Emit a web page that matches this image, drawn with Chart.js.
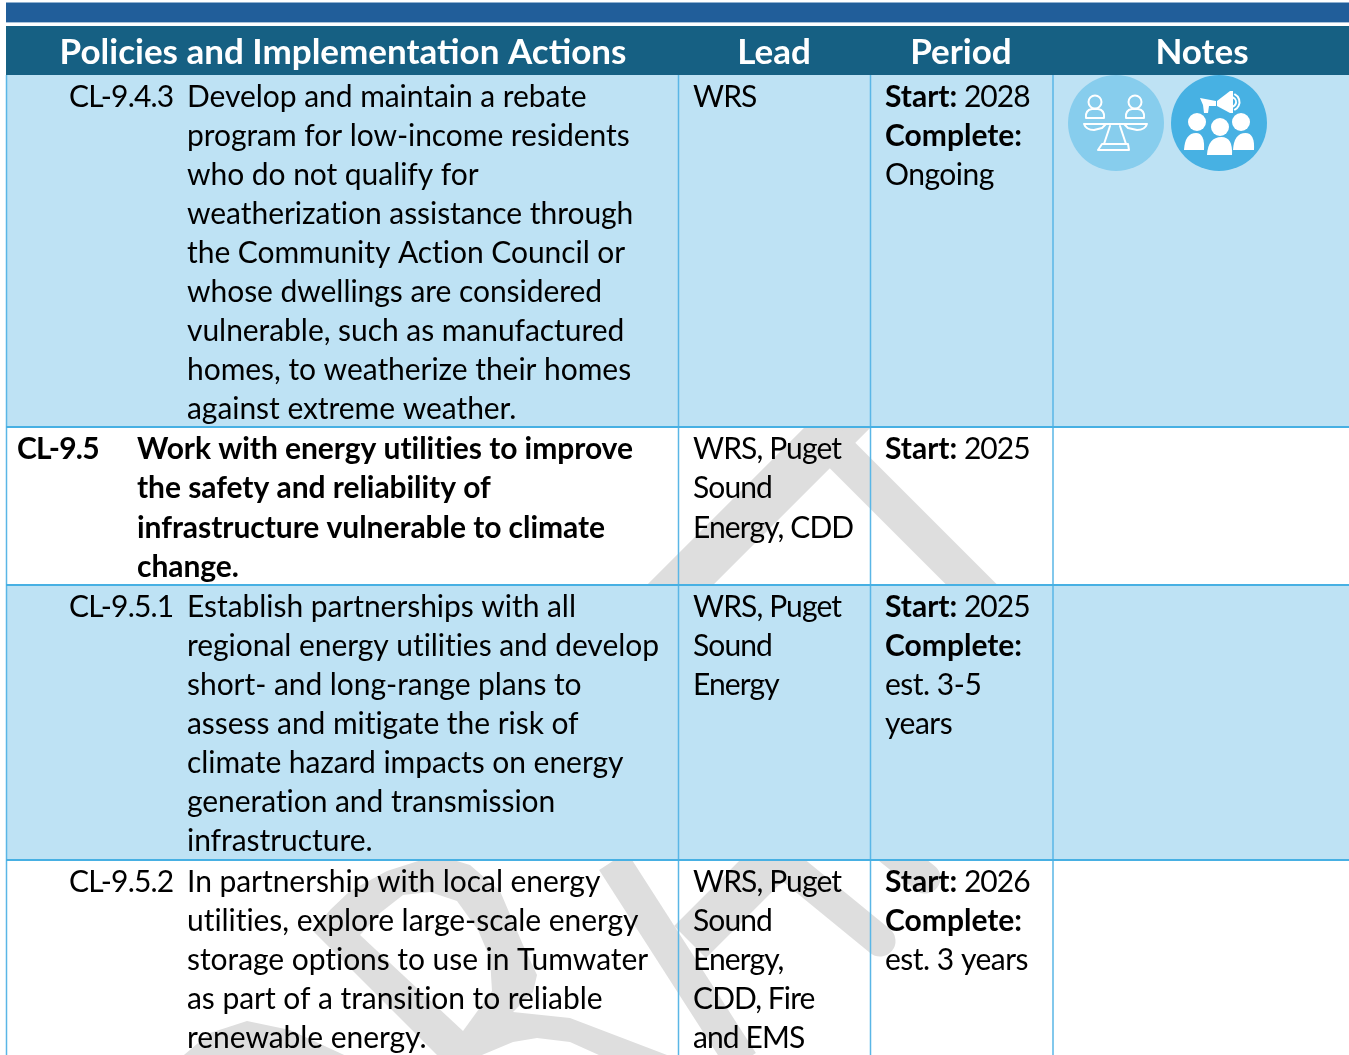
<!DOCTYPE html>
<html>
<head>
<meta charset="utf-8">
<style>
  html, body { margin: 0; padding: 0; background: #fff; overflow: hidden; }
  canvas { display: block; }
</style>
<script src="https://cdn.jsdelivr.net/npm/chart.js@4"></script>
</head>
<body>
<canvas id="chart" width="1349" height="1055"></canvas>
<script>
const headers = ["Policies and Implementation Actions", "Lead", "Period", "Notes"];

const codes = ["CL-9.4.3", "CL-9.5", "CL-9.5.1", "CL-9.5.2"];

const actions = [
    ["Develop and maintain a rebate", "program for low-income residents", "who do not qualify for",
     "weatherization assistance through", "the Community Action Council or", "whose dwellings are considered",
     "vulnerable, such as manufactured", "homes, to weatherize their homes", "against extreme weather."],
    ["Work with energy utilities to improve", "the safety and reliability of",
     "infrastructure vulnerable to climate", "change."],
    ["Establish partnerships with all", "regional energy utilities and develop", "short- and long-range plans to",
     "assess and mitigate the risk of", "climate hazard impacts on energy", "generation and transmission", "infrastructure."],
    ["In partnership with local energy", "utilities, explore large-scale energy", "storage options to use in Tumwater",
     "as part of a transition to reliable", "renewable energy."]
];

const leads = [
    ["WRS"],
    ["WRS, Puget", "Sound", "Energy, CDD"],
    ["WRS, Puget", "Sound", "Energy"],
    ["WRS, Puget", "Sound", "Energy,", "CDD, Fire", "and EMS"]
];

const periods = [
    ["Start: 2028", "Complete:", "Ongoing"],
    ["Start: 2025"],
    ["Start: 2025", "Complete:", "est. 3-5", "years"],
    ["Start: 2026", "Complete:", "est. 3 years"]
];

// table grid, in page pixels
const columnEdges = [6.5, 678.5, 870.5, 1053, 1349];
const rowEdges = [75, 427, 585, 860, 1055];
const firstBaselines = [107, 459, 617, 892];
const lineGaps = [39, 39.3, 39, 39];

const FONT = "Lato";
const BODY_SIZE = 30;

// watermark pieces behind the white rows
const draftBands = [
    { width: 47, points: [[600, 665], [900, 365]] },
    { width: 36, points: [[830, 443], [1010, 623]] },
    { width: 33, points: [[613, 861], [742, 1062]] },
    { width: 45, points: [[690, 942], [790, 842]] },
    { width: 31, cap: "round", points: [[770, 851], [880, 941]] },
    { width: 31, cap: "round", points: [[890, 850], [925, 878]] }
];
const draftShapes = [
    { color: "#dedede", points: [[313, 931], [330, 910], [350, 891], [387, 871], [437, 855], [470, 865], [500, 891], [523, 945], [537, 975], [533, 992], [513, 1012], [570, 1018], [667, 1055], [610, 1060], [570, 1042], [537, 1038], [513, 1042], [470, 1060], [442, 1060]] },
    { color: "#ffffff", points: [[360, 935], [380, 913], [403, 895], [430, 892], [457, 901], [478, 930], [490, 958], [492, 991], [463, 1031]] },
    { color: "#dedede", points: [[178, 1060], [210, 1033], [247, 1021], [290, 1030], [355, 1060]] }
];

function box(x0, y0, x1, y1, color) {
    return {
        data: [{ x: x0, y: y0 }, { x: x1, y: y0 }],
        fill: { value: y1 },
        backgroundColor: color,
        borderWidth: 0,
        pointRadius: 0,
        showLine: true
    };
}

function rule(points, color, width, cap) {
    return {
        data: points.map(p => ({ x: p[0], y: p[1] })),
        borderColor: color,
        borderWidth: width,
        borderCapStyle: cap || "butt",
        pointRadius: 0,
        showLine: true,
        fill: false
    };
}

function shape(points, color) {
    return {
        data: points.concat([points[0]]).map(p => ({ x: p[0], y: p[1] })),
        fill: "shape",
        backgroundColor: color,
        borderWidth: 0,
        pointRadius: 0,
        showLine: true
    };
}

function dot(x, y, r, color) {
    return {
        data: [{ x: x, y: y }],
        pointRadius: r,
        pointBackgroundColor: color,
        pointBorderWidth: 0,
        showLine: false
    };
}

const datasets = [];
draftShapes.forEach(s => datasets.push(shape(s.points, s.color)));
draftBands.forEach(b => datasets.push(rule(b.points, "#dedede", b.width, b.cap)));

// shaded rows, these sit on top of the watermark
datasets.push(box(6, rowEdges[0], 1349, rowEdges[1], "#bee2f4"));
datasets.push(box(6, rowEdges[2], 1349, rowEdges[3], "#bee2f4"));
// header bands
datasets.push(box(6, 2, 1349, 3, "#8fb0d0"));
datasets.push(box(6, 3, 1349, 22, "#215e9a"));
datasets.push(box(6, 22, 1349, 23, "#a9c2da"));
datasets.push(box(6, 26, 1349, 75, "#166083"));

columnEdges.slice(0, 4).forEach(x => {
    datasets.push(rule([[x, 75], [x, 1055]], "#5ab6e6", 1.5));
});
rowEdges.slice(1, 4).forEach(y => {
    datasets.push(rule([[6, y], [1349, y]], "#47b0e3", 2));
});

// notes icons
datasets.push(dot(1116, 123, 48, "#87cded"));
datasets.push(dot(1219, 123, 48, "#47b1e3"));

// order: later entries on top
datasets.forEach((d, i) => { d.order = -i; });

function fillPath(ctx, points) {
    ctx.beginPath();
    points.forEach((p, i) => (i ? ctx.lineTo(p[0], p[1]) : ctx.moveTo(p[0], p[1])));
    ctx.closePath();
    ctx.fill();
}

const iconPlugin = {
    id: "icons",
    afterDatasetsDraw(chart) {
        const ctx = chart.ctx;
        ctx.save();
        ctx.strokeStyle = "#ffffff";
        ctx.fillStyle = "#ffffff";
        ctx.lineCap = "round";
        ctx.lineJoin = "round";
        ctx.lineWidth = 2;

        // balance scale with two people
        [1095, 1135].forEach(x => {
            ctx.beginPath();
            ctx.arc(x, 102, 6.5, 0, Math.PI * 2);
            ctx.stroke();
            ctx.beginPath();
            ctx.moveTo(x - 9, 118);
            ctx.quadraticCurveTo(x - 10, 110, x - 3, 109);
            ctx.lineTo(x + 3, 109);
            ctx.quadraticCurveTo(x + 10, 110, x + 9, 118);
            ctx.closePath();
            ctx.stroke();
        });
        ctx.beginPath();
        ctx.moveTo(1084, 124);
        ctx.lineTo(1147, 124);
        ctx.moveTo(1084, 124);
        ctx.quadraticCurveTo(1086, 130, 1094, 130);
        ctx.lineTo(1102, 128);
        ctx.lineTo(1106, 124);
        ctx.moveTo(1147, 124);
        ctx.quadraticCurveTo(1145, 130, 1137, 130);
        ctx.lineTo(1128, 128);
        ctx.lineTo(1124, 124);
        ctx.moveTo(1110, 126);
        ctx.lineTo(1104, 144);
        ctx.moveTo(1120, 126);
        ctx.lineTo(1126, 144);
        ctx.moveTo(1102, 150);
        ctx.lineTo(1098, 150);
        ctx.lineTo(1102, 144);
        ctx.lineTo(1128, 144);
        ctx.lineTo(1129, 150);
        ctx.closePath();
        ctx.stroke();

        // audience with loudspeaker
        [[1197, 122, 9], [1220, 127, 9], [1241, 122, 9]].forEach(h => {
            ctx.beginPath();
            ctx.arc(h[0], h[1], h[2], 0, Math.PI * 2);
            ctx.fill();
        });
        [[1184, 150, 1204, 133], [1207, 155, 1232, 137], [1233, 150, 1254, 133]].forEach(b => {
            ctx.beginPath();
            ctx.moveTo(b[0], b[1]);
            ctx.quadraticCurveTo(b[0] + 1, b[3], (b[0] + b[2]) / 2 + 2, b[3]);
            ctx.quadraticCurveTo(b[2] + 1, b[3], b[2], b[1]);
            ctx.closePath();
            ctx.fill();
        });
        fillPath(ctx, [[1200, 98], [1216, 101], [1216, 106], [1209, 106], [1208, 113], [1204, 113], [1203, 105]]);
        fillPath(ctx, [[1217, 101], [1230, 91], [1233, 91], [1233, 113], [1230, 113], [1217, 106]]);
        ctx.beginPath();
        ctx.arc(1231, 102, 5, -1.1, 1.1);
        ctx.stroke();
        ctx.beginPath();
        ctx.arc(1231, 102, 8.5, -1.1, 1.1);
        ctx.stroke();
        ctx.restore();
    }
};

const textPlugin = {
    id: "tableText",
    afterDraw(chart) {
        const ctx = chart.ctx;
        const xs = chart.scales.x;
        const ys = chart.scales.y;
        ctx.save();
        ctx.textBaseline = "alphabetic";

        // header
        ctx.fillStyle = "#ffffff";
        ctx.textAlign = "center";
        ctx.font = "700 35px " + FONT;
        const headerCenters = [343, 774, 961, 1202];
        headers.forEach((h, i) => ctx.fillText(h, xs.getPixelForValue(headerCenters[i]), ys.getPixelForValue(64)));

        ctx.textAlign = "left";
        ctx.fillStyle = "#000000";
        codes.forEach((code, r) => {
            const top = firstBaselines[r];
            const gap = lineGaps[r];
            const isPolicy = r === 1;
            const weight = isPolicy ? "700 " : "400 ";
            ctx.font = weight + BODY_SIZE + "px " + FONT;
            ctx.letterSpacing = "-0.8px";
            ctx.fillText(code, isPolicy ? 17 : 69, ys.getPixelForValue(top));
            ctx.letterSpacing = "-0.05px";
            actions[r].forEach((line, i) => {
                ctx.fillText(line, isPolicy ? 137 : 187, ys.getPixelForValue(top + i * gap));
            });
            ctx.font = "400 " + BODY_SIZE + "px " + FONT;
            ctx.letterSpacing = "-0.9px";
            leads[r].forEach((line, i) => {
                ctx.fillText(line, 693, ys.getPixelForValue(top + i * gap));
            });
            periods[r].forEach((line, i) => {
                const y = ys.getPixelForValue(top + i * gap);
                const m = line.match(/^(Start:|Complete:)(.*)$/);
                if (m) {
                    ctx.letterSpacing = "0px";
                    ctx.font = "700 " + BODY_SIZE + "px " + FONT;
                    ctx.fillText(m[1], 885, y);
                    const w = ctx.measureText(m[1]).width;
                    ctx.font = "400 " + BODY_SIZE + "px " + FONT;
                    ctx.letterSpacing = "-1px";
                    ctx.fillText(m[2], 885 + w, y);
                } else {
                    ctx.font = "400 " + BODY_SIZE + "px " + FONT;
                    ctx.letterSpacing = "-0.5px";
                    ctx.fillText(line, 885, y);
                }
            });
            ctx.letterSpacing = "0px";
        });
        ctx.restore();
    }
};

new Chart(document.getElementById("chart"), {
    type: "scatter",
    data: { datasets: datasets },
    options: {
        responsive: false,
        animation: false,
        events: [],
        layout: { padding: 0, autoPadding: false },
        plugins: { legend: { display: false }, tooltip: { enabled: false }, title: { display: false } },
        scales: {
            x: { type: "linear", min: 0, max: 1349, display: false },
            y: { type: "linear", min: 0, max: 1055, reverse: true, display: false }
        }
    },
    plugins: [iconPlugin, textPlugin]
});
</script>
</body>
</html>
